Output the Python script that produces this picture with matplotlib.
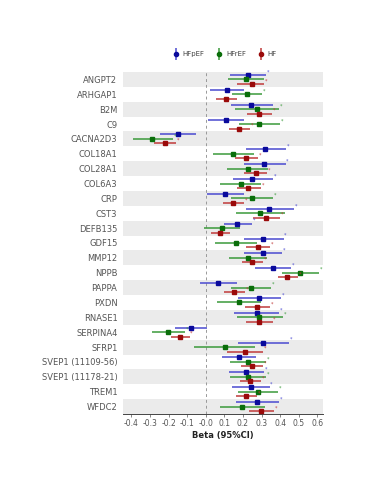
import numpy as np
import matplotlib.pyplot as plt
from matplotlib.lines import Line2D

proteins = ["ANGPT2", "ARHGAP1", "B2M", "C9", "CACNA2D3", "COL18A1", "COL28A1",
            "COL6A3", "CRP", "CST3", "DEFB135", "GDF15", "MMP12", "NPPB", "PAPPA",
            "PXDN", "RNASE1", "SERPINA4", "SFRP1", "SVEP1 (11109-56)",
            "SVEP1 (11178-21)", "TREM1", "WFDC2"]

hfpef_est = [0.225, 0.112, 0.245, 0.107, -0.149, 0.320, 0.313, 0.250, 0.105, 0.341, 0.169,
             0.308, 0.308, 0.361, 0.064, 0.287, 0.273, -0.081, 0.308, 0.177, 0.217, 0.241, 0.276]
hfpef_lo = [0.129, 0.022, 0.133, 0.011, -0.245, 0.214, 0.203, 0.144, 0.009, 0.215, 0.098,
            0.206, 0.208, 0.267, -0.033, 0.173, 0.151, -0.166, 0.171, 0.087, 0.125, 0.142, 0.162]
hfpef_hi = [0.322, 0.203, 0.359, 0.204, -0.052, 0.431, 0.429, 0.361, 0.206, 0.473, 0.249,
            0.418, 0.411, 0.460, 0.166, 0.405, 0.392, 0.004, 0.446, 0.271, 0.313, 0.343, 0.396]
hfpef_sig = [1, 0, 0, 0, 0, 1, 1, 1, 0, 1, 1, 1, 1, 1, 0, 1, 1, 0, 1, 0, 1, 1, 1]

hfref_est = [0.215, 0.219, 0.276, 0.287, -0.289, 0.147, 0.225, 0.188, 0.249, 0.293, 0.087,
             0.160, 0.225, 0.505, 0.241, 0.177, 0.287, -0.203, 0.101, 0.225, 0.225, 0.280, 0.197]
hfref_lo = [0.120, 0.142, 0.157, 0.179, -0.392, 0.037, 0.114, 0.077, 0.138, 0.160, -0.009,
            0.050, 0.123, 0.411, 0.138, 0.059, 0.166, -0.291, -0.066, 0.129, 0.129, 0.175, 0.077]
hfref_hi = [0.313, 0.304, 0.396, 0.400, -0.175, 0.258, 0.335, 0.298, 0.363, 0.427, 0.184,
            0.273, 0.328, 0.608, 0.350, 0.295, 0.414, -0.110, 0.267, 0.326, 0.326, 0.387, 0.317]
hfref_sig = [0, 1, 1, 1, 1, 0, 0, 0, 1, 0, 0, 0, 0, 1, 1, 0, 1, 1, 0, 1, 1, 1, 0]

hf_est = [0.249, 0.107, 0.285, 0.180, -0.221, 0.217, 0.271, 0.227, 0.147, 0.324, 0.077,
          0.280, 0.249, 0.438, 0.153, 0.276, 0.285, -0.138, 0.210, 0.249, 0.236, 0.217, 0.295]
hf_lo = [0.166, 0.055, 0.221, 0.125, -0.280, 0.157, 0.208, 0.166, 0.092, 0.254, 0.028,
         0.217, 0.193, 0.387, 0.096, 0.212, 0.217, -0.188, 0.114, 0.190, 0.184, 0.160, 0.230]
hf_hi = [0.313, 0.166, 0.354, 0.239, -0.160, 0.282, 0.331, 0.295, 0.208, 0.401, 0.129,
         0.346, 0.308, 0.497, 0.212, 0.346, 0.359, -0.087, 0.306, 0.306, 0.295, 0.276, 0.365]
hf_sig = [1, 0, 1, 1, 1, 1, 1, 1, 1, 1, 0, 1, 1, 1, 1, 1, 1, 1, 1, 1, 1, 1, 1]

groups = ["HFpEF", "HFrEF", "HF"]
line_colors = ["#4a4ad0", "#3a9a3a", "#c03a3a"]
point_colors = ["#0a0a9c", "#0a6e0a", "#9a0a0a"]
offsets = [0.3, 0.0, -0.3]
series = [(hfpef_est, hfpef_lo, hfpef_hi, hfpef_sig),
          (hfref_est, hfref_lo, hfref_hi, hfref_sig),
          (hf_est, hf_lo, hf_hi, hf_sig)]

n = len(proteins)
ypos = np.arange(n)[::-1]

fig = plt.figure(figsize=(3.71, 4.80), dpi=100)
ax = fig.add_axes([0.3315, 0.1375, 0.5391, 0.7125])

for i, y in enumerate(ypos):
    if i % 2 == 0:
        ax.axhspan(y - 0.5, y + 0.5, color="#ebebeb", lw=0, zorder=0)

ax.axvline(0, color="#999999", ls=(0, (3, 3)), lw=0.7, zorder=1)

handles = []
for (est, lo, hi, sig), lc, pc, off in zip(series, line_colors, point_colors, offsets):
    yy = ypos + off
    ax.hlines(yy, lo, hi, color=lc, lw=1.1, zorder=2)
    ax.plot(est, yy, ls="none", marker="s", ms=3.2, color=pc, zorder=3)
    for h, y1, s in zip(hi, yy, sig):
        if s:
            ax.text(h + 0.004, y1 + 0.05, "*", color=lc, fontsize=3.5,
                    ha="left", va="bottom", zorder=3)
    bar = Line2D([], [], ls="none", marker="|", ms=8, mew=1.1, color=lc)
    dot = Line2D([], [], ls="none", marker="o", ms=3, color=pc)
    handles.append((bar, dot))

ax.set_xlim(-0.445, 0.63)
ax.set_ylim(-0.5, n - 0.5)
ax.set_xticks(np.round(np.arange(-0.4, 0.61, 0.1), 1))
ax.set_xticklabels(["%.1f" % v for v in np.arange(-0.4, 0.61, 0.1)])
ax.set_yticks(ypos)
ax.set_yticklabels(proteins)
ax.tick_params(axis="x", colors="#555555", labelsize=5.5, length=2, width=0.5, pad=1.5)
ax.tick_params(axis="y", colors="#555555", labelsize=6, length=0, pad=4)
for sp in ["top", "right", "left"]:
    ax.spines[sp].set_visible(False)
ax.spines["bottom"].set_color("#444444")
ax.spines["bottom"].set_linewidth(0.7)
ax.set_xlabel("Beta (95%CI)", fontsize=6, fontweight="bold", color="#222222", labelpad=2)

fig.legend(handles=handles, labels=groups, loc="center", bbox_to_anchor=(0.605, 0.887),
           ncol=3, frameon=False, fontsize=5, handlelength=1.0, handletextpad=0.5,
           columnspacing=1.6, labelcolor="#444444")

fig.savefig("out.png", dpi=100)
